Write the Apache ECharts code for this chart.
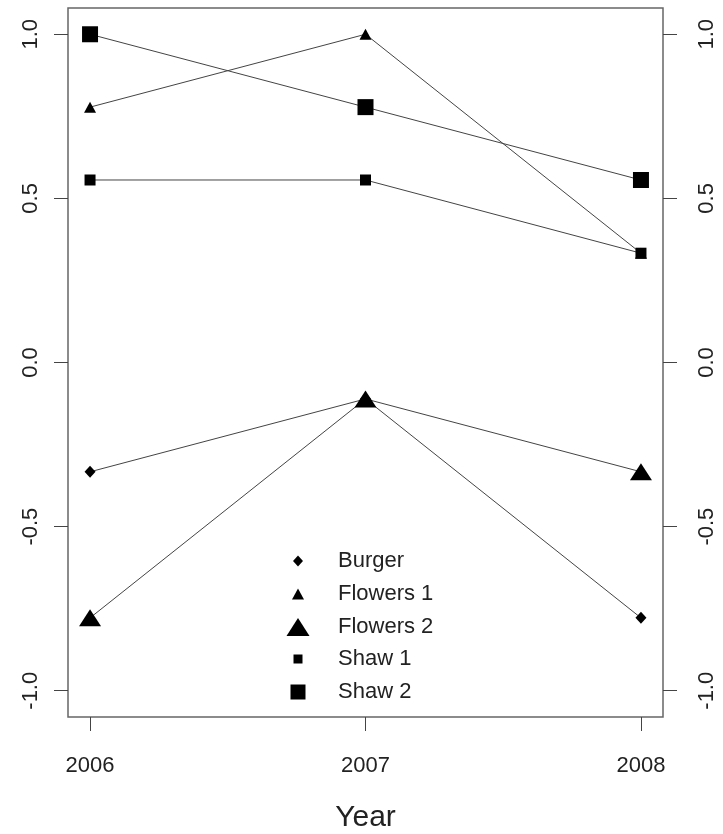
<!DOCTYPE html>
<html>
<head>
<meta charset="utf-8">
<script src="https://cdn.jsdelivr.net/npm/echarts@6/dist/echarts.min.js"></script>
<style>
  html, body { margin: 0; padding: 0; background: #fff; }
  #chart { width: 723px; height: 834px; }
</style>
</head>
<body>
<div id="chart"></div>
<script>
// data
const years = [2006, 2007, 2008]
const burger = [-0.333, -0.111, -0.778]
const flowers1 = [0.778, 1.0, 0.333]
const flowers2 = [-0.778, -0.111, -0.333]
const shaw1 = [0.556, 0.556, 0.333]
const shaw2 = [1.0, 0.778, 0.556]
const yTicks = [-1.0, -0.5, 0.0, 0.5, 1.0]
const xTicks = [2006, 2007, 2008]

const font = 'Liberation Sans, Arial, sans-serif'
const ink = '#222'

// name, values, symbol, plot size, legend size, legend center y
const seriesDefs = [
  { name: 'Burger', values: burger, symbol: 'diamond', size: [11, 12], legSize: [10, 11], legY: 562 },
  { name: 'Flowers 1', values: flowers1, symbol: 'triangle', size: [12, 11], legSize: [12, 11], legY: 595 },
  { name: 'Flowers 2', values: flowers2, symbol: 'triangle', size: [22, 17], legSize: [23, 18], legY: 628 },
  { name: 'Shaw 1', values: shaw1, symbol: 'rect', size: [11, 11], legSize: [9, 9], legY: 660 },
  { name: 'Shaw 2', values: shaw2, symbol: 'rect', size: [16, 16], legSize: [15, 15], legY: 693 }
]

const chart = echarts.init(document.getElementById('chart'))

const yAxisBase = {
  type: 'value',
  min: -1.08,
  max: 1.08,
  splitLine: { show: false },
  axisLine: { show: false, onZero: false },
  axisTick: { show: true, length: 14, lineStyle: { color: '#444', width: 1 }, customValues: yTicks },
  axisLabel: {
    rotate: 90,
    customValues: yTicks,
    formatter: (v) => v.toFixed(1),
    fontFamily: font,
    fontSize: 22,
    color: ink
  }
}

const option = {
  animation: false,
  backgroundColor: '#fff',
  grid: {
    left: 68,
    right: 60,
    top: 8,
    bottom: 117,
    outerBoundsMode: 'none',
    show: true,
    borderColor: '#666',
    borderWidth: 1.5
  },
  xAxis: {
    type: 'value',
    min: 2005.92,
    max: 2008.08,
    splitLine: { show: false },
    axisLine: { show: false, onZero: false },
    axisTick: { show: true, length: 14, lineStyle: { color: '#444', width: 1 }, customValues: xTicks },
    axisLabel: {
      customValues: xTicks,
      formatter: (v) => String(v),
      margin: 38,
      fontFamily: font,
      fontSize: 22,
      color: ink
    },
    name: 'Year',
    nameLocation: 'middle',
    nameGap: 86,
    nameTextStyle: { fontFamily: font, fontSize: 30, color: ink }
  },
  yAxis: [
    Object.assign({}, yAxisBase, {
      position: 'left',
      axisLabel: Object.assign({}, yAxisBase.axisLabel, { margin: 26 })
    }),
    Object.assign({}, yAxisBase, {
      position: 'right',
      axisLabel: Object.assign({}, yAxisBase.axisLabel, { margin: 33 })
    })
  ],
  legend: seriesDefs.map((s) => ({
    data: [{ name: s.name, icon: s.symbol }],
    selectedMode: false,
    padding: 0,
    left: 298 - s.legSize[0] / 2,
    top: s.legY - 12,
    itemWidth: s.legSize[0],
    itemHeight: s.legSize[1],
    symbolKeepAspect: false,
    textStyle: {
      fontFamily: font,
      fontSize: 22,
      color: ink,
      padding: [0, 0, 0, 40 - s.legSize[0] / 2 - 5]
    }
  })),
  series: seriesDefs.map((s) => ({
    name: s.name,
    type: 'line',
    data: years.map((y, i) => [y, s.values[i]]),
    symbol: s.symbol,
    symbolSize: s.size,
    showAllSymbol: true,
    lineStyle: { color: '#444', width: 1 },
    itemStyle: { color: '#000' },
    emphasis: { disabled: true }
  }))
}

chart.setOption(option)
</script>
</body>
</html>
